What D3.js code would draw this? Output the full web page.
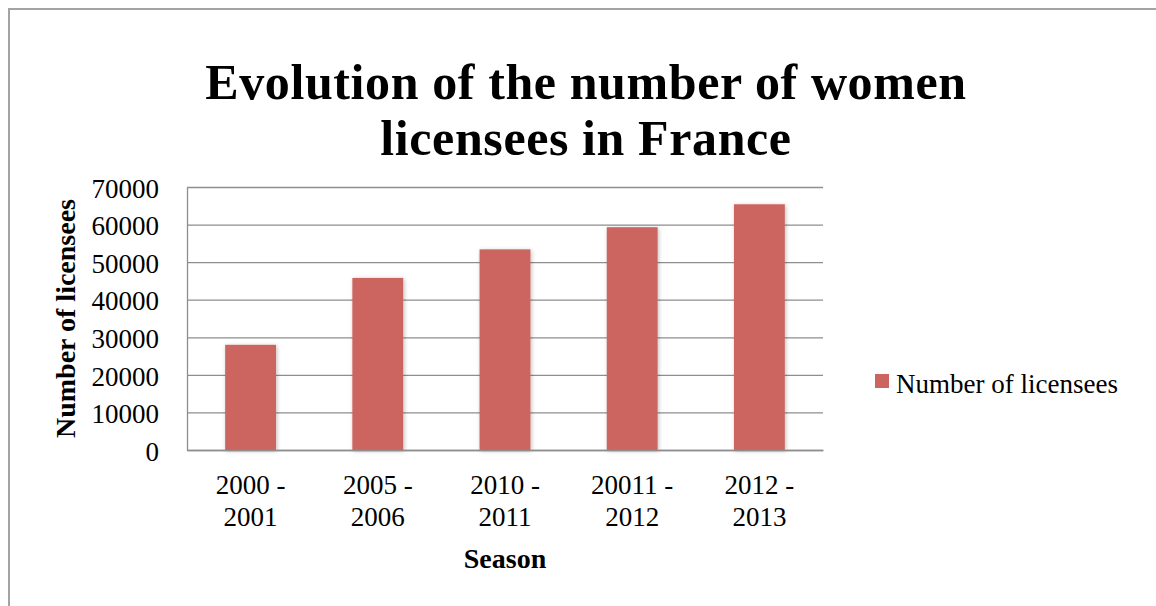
<!DOCTYPE html>
<html>
<head>
<meta charset="utf-8">
<script src="https://cdn.jsdelivr.net/npm/d3@7"></script>
<style>
  body { margin: 0; background: #fff; }
  svg text { font-family: "Liberation Serif", "DejaVu Serif", serif; fill: #000; }
</style>
</head>
<body>
<div id="chart"></div>
<script>
// chart data
const seasons = ["2000 - 2001", "2005 - 2006", "2010 - 2011", "20011 - 2012", "2012 - 2013"];
const licensees = [28000, 45800, 53400, 59300, 65400];
const yTicks = [0, 10000, 20000, 30000, 40000, 50000, 60000, 70000];
const titleLines = ["Evolution of the number of women", "licensees in France"];
const seriesName = "Number of licensees";

const width = 1156, height = 606;
const plot = {left: 187, right: 823, top: 187, bottom: 450};
const barColor = "#cc655f";
const gridColor = "#8e8e8e";
const labelSize = 27;

const svg = d3.select("#chart").append("svg")
    .attr("width", width)
    .attr("height", height);

svg.append("rect").attr("width", width).attr("height", height).attr("fill", "#fff");

// outer frame (runs past the right and bottom edge)
svg.append("rect")
    .attr("x", 9).attr("y", 9)
    .attr("width", width + 20).attr("height", height + 20)
    .attr("fill", "none")
    .attr("stroke", "#a3a3a3")
    .attr("stroke-width", 2);

// soft shadow under the bars
const defs = svg.append("defs");
const shadow = defs.append("filter").attr("id", "barShadow")
    .attr("x", "-20%").attr("y", "-10%").attr("width", "140%").attr("height", "130%");
shadow.append("feDropShadow")
    .attr("dx", 1).attr("dy", 1).attr("stdDeviation", 2)
    .attr("flood-color", "#000").attr("flood-opacity", 0.25);

// scales
const x = d3.scaleBand()
    .domain(seasons)
    .range([plot.left, plot.right])
    .paddingInner(0.6)
    .paddingOuter(0.3);

const y = d3.scaleLinear()
    .domain([0, 70000])
    .range([plot.bottom, plot.top]);

// gridlines
svg.append("g")
    .attr("transform", `translate(${plot.left},0)`)
    .call(d3.axisLeft(y).tickValues(yTicks).tickSize(-(plot.right - plot.left)).tickFormat(""))
    .call((g) => g.select(".domain").remove())
    .call((g) => g.selectAll("line").attr("stroke", gridColor).attr("stroke-width", 1.3));

// y axis line + labels
svg.append("g")
    .attr("id", "yAxis")
    .attr("transform", `translate(${plot.left},0)`)
    .call(d3.axisLeft(y).tickValues(yTicks).tickSize(0).tickPadding(28).tickFormat(d3.format("d")))
    .call((g) => g.select(".domain").attr("stroke", gridColor).attr("stroke-width", 1.3))
    .call((g) => g.selectAll("text")
        .attr("font-size", labelSize)
        .attr("font-family", "Liberation Serif")
        .attr("dy", "0.38em"));

// bars
svg.append("g")
    .attr("id", "bars")
    .attr("fill", barColor)
    .attr("filter", "url(#barShadow)")
    .selectAll()
    .data(licensees)
    .join("rect")
    .attr("x", (d, i) => x(seasons[i]))
    .attr("width", x.bandwidth())
    .attr("y", (d) => y(d))
    .attr("height", (d) => y(0) - y(d));

// x axis line + two-line labels
const xAxis = svg.append("g")
    .attr("id", "xAxis")
    .attr("transform", `translate(0,${plot.bottom})`)
    .call(d3.axisBottom(x).tickSize(0).tickFormat(""))
    .call((g) => g.select(".domain").attr("stroke", gridColor).attr("stroke-width", 1.3));

xAxis.selectAll(".tick").each(function(d) {
    const parts = d.split(" - ");
    const t = d3.select(this).append("text")
        .attr("text-anchor", "middle")
        .attr("font-size", labelSize)
        .attr("font-family", "Liberation Serif");
    t.append("tspan").attr("x", 0).attr("y", 44).text(parts[0] + " -");
    t.append("tspan").attr("x", 0).attr("y", 76).text(parts[1]);
});

// axis titles
svg.append("text")
    .attr("x", (plot.left + plot.right) / 2)
    .attr("y", 568)
    .attr("text-anchor", "middle")
    .attr("font-size", 28)
    .attr("font-weight", "bold")
    .text("Season");

svg.append("text")
    .attr("transform", `translate(75,${(plot.top + plot.bottom) / 2}) rotate(-90)`)
    .attr("text-anchor", "middle")
    .attr("font-size", 28)
    .attr("font-weight", "bold")
    .text("Number of licensees");

// title
svg.append("g")
    .attr("text-anchor", "middle")
    .attr("font-size", 50)
    .attr("font-weight", "bold")
    .attr("letter-spacing", 0.6)
    .selectAll("text")
    .data(titleLines)
    .join("text")
    .attr("x", 586)
    .attr("y", (d, i) => 99 + i * 56)
    .text((d) => d);

// legend
const legend = svg.append("g").attr("transform", "translate(875,374)");
legend.append("rect").attr("width", 14).attr("height", 14).attr("fill", barColor);
legend.append("text")
    .attr("x", 21).attr("y", 19)
    .attr("font-size", labelSize)
    .text(seriesName);
</script>
</body>
</html>
